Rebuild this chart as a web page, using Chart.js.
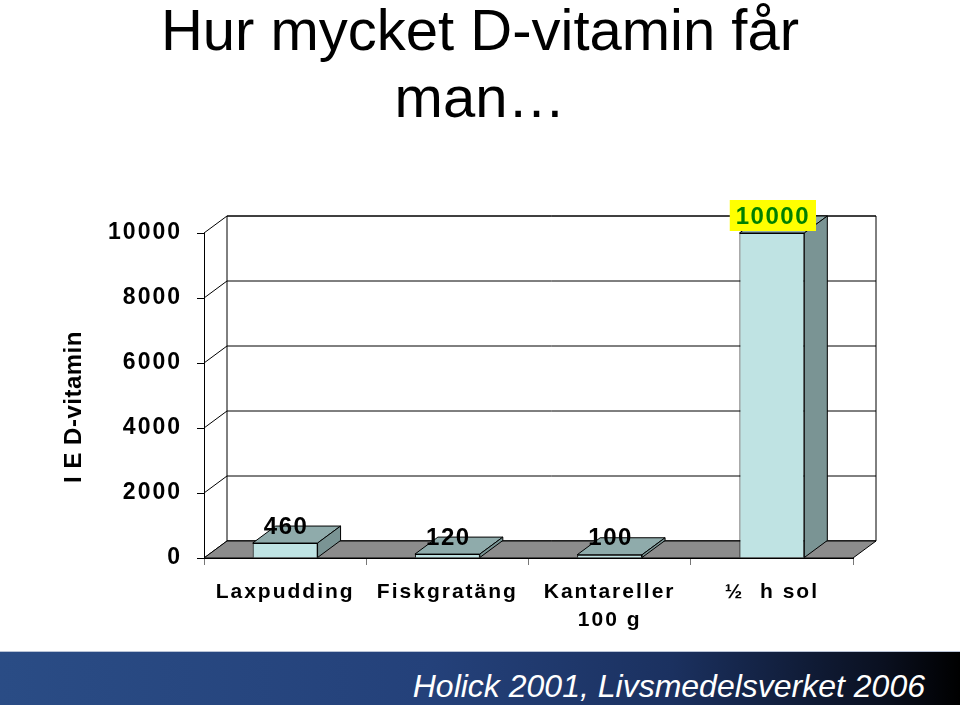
<!DOCTYPE html>
<html>
<head>
<meta charset="utf-8">
<title>Hur mycket D-vitamin får man…</title>
<script src="https://cdn.jsdelivr.net/npm/chart.js@4/dist/chart.umd.min.js"></script>
<style>
  html, body { margin: 0; padding: 0; background: #fff; }
  #wrap { position: relative; width: 960px; height: 705px; overflow: hidden; }
  #chart-box { position: absolute; left: 0; top: 0; width: 960px; height: 705px; }
  #title {
    position: absolute; left: 0; top: -4px; width: 960px; text-align: center;
    font: 58px/67px "Liberation Sans", Arial, sans-serif; color: #000;
  }
  #footer {
    position: absolute; left: 0; top: 651px; width: 960px; height: 54px;
    box-sizing: border-box; border-top: 1px solid #b9c3d6;
    background: linear-gradient(to right, #2a4c85 0%, #24417a 45%, #1b3160 70%, #0a1020 92%, #000 100%);
  }
  #footer span {
    position: absolute; right: 35px; top: 18px;
    font: italic 32px/32px "Liberation Sans", Arial, sans-serif; color: #fff;
  }
</style>
</head>
<body>
<div id="wrap">
  <div id="chart-box"><canvas id="vitaminChart"></canvas></div>
  <div id="title">Hur mycket D-vitamin får<br>man…</div>
  <div id="footer"><span>Holick 2001, Livsmedelsverket 2006</span></div>
</div>
<script>
const categories = ['Laxpudding', 'Fiskgratäng', ['Kantareller', '100 g'], '½  h sol'];
const values = [460, 120, 100, 10000];
const yTicks = [0, 2000, 4000, 6000, 8000, 10000];
const yTitle = 'I E D-vitamin';

const FONT = '"Liberation Sans", Arial, sans-serif';
const DX = 23, DY = 17; // depth of the 3D box

const FRONT = '#bfe3e3';
const TOP = '#8fabab';
const SIDE = '#7a9494';
const FLOOR = '#8c8c8c';

function poly(ctx, pts, fill) {
  ctx.beginPath();
  ctx.moveTo(pts[0][0], pts[0][1]);
  for (let i = 1; i < pts.length; i++) ctx.lineTo(pts[i][0], pts[i][1]);
  ctx.closePath();
  if (fill) { ctx.fillStyle = fill; ctx.fill(); }
  ctx.stroke();
}

// walls, floor, box tops/sides and value labels
const box3d = {
  id: 'box3d',
  beforeUpdate(chart) {
    chart.ctx.letterSpacing = '2px';
  },
  beforeDraw(chart) {
    chart.ctx.letterSpacing = '2px';
  },
  beforeDatasetsDraw(chart) {
    const { ctx, chartArea: a, scales: { y } } = chart;
    ctx.save();
    ctx.strokeStyle = '#000';
    ctx.lineWidth = 1;

    // back wall
    const bl = a.left + DX, br = a.right + DX;
    poly(ctx, [[bl, a.top - DY], [br, a.top - DY], [br, a.bottom - DY], [bl, a.bottom - DY]], '#fff');

    // grid lines: slant on side wall, then across back wall
    y.ticks.forEach(t => {
      const py = y.getPixelForValue(t.value);
      ctx.beginPath();
      ctx.moveTo(a.left, py);
      ctx.lineTo(bl, py - DY);
      ctx.lineTo(br, py - DY);
      ctx.stroke();
    });

    // floor
    poly(ctx, [[a.left, a.bottom], [a.right, a.bottom], [br, a.bottom - DY], [bl, a.bottom - DY]], FLOOR);
    ctx.restore();
  },
  afterDatasetsDraw(chart) {
    const { ctx } = chart;
    const meta = chart.getDatasetMeta(0);
    const maxVal = Math.max(...values);
    ctx.save();
    ctx.strokeStyle = '#000';
    ctx.lineWidth = 1;
    meta.data.forEach((el, i) => {
      const { x, y, base, width } = el.getProps(['x', 'y', 'base', 'width'], true);
      const x1 = x - width / 2, x2 = x + width / 2;
      poly(ctx, [[x1, y], [x2, y], [x2 + DX, y - DY], [x1 + DX, y - DY]], TOP);
      poly(ctx, [[x2, y], [x2, base], [x2 + DX, base - DY], [x2 + DX, y - DY]], SIDE);
    });

    ctx.font = 'bold 24px ' + FONT;
    ctx.letterSpacing = '1.5px';
    ctx.textAlign = 'center';
    ctx.textBaseline = 'middle';
    meta.data.forEach((el, i) => {
      const { x, y } = el.getProps(['x', 'y'], true);
      const txt = String(values[i]);
      const ly = y - DY;
      if (values[i] === maxVal) {
        const w = ctx.measureText(txt).width + 12;
        ctx.fillStyle = '#ffff00';
        ctx.fillRect(x - w / 2 + 1, ly - 16, w, 31);
        ctx.fillStyle = '#008000';
      } else {
        ctx.fillStyle = '#000';
      }
      ctx.fillText(txt, x + 1, ly + 1);
    });
    ctx.restore();
  },
  afterDraw(chart) {
    const { ctx } = chart;
    ctx.save();
    ctx.font = 'bold 24px ' + FONT;
    ctx.letterSpacing = '0.5px';
    ctx.fillStyle = '#000';
    ctx.textAlign = 'center';
    ctx.textBaseline = 'middle';
    ctx.translate(74, 407);
    ctx.rotate(-Math.PI / 2);
    ctx.fillText(yTitle, 0, 0);
    ctx.restore();
  }
};

new Chart(document.getElementById('vitaminChart'), {
  type: 'bar',
  data: {
    labels: categories,
    datasets: [{
      data: values,
      backgroundColor: FRONT,
      borderColor: '#000',
      borderWidth: 1,
      barPercentage: 0.4,
      categoryPercentage: 1
    }]
  },
  options: {
    responsive: true,
    maintainAspectRatio: false,
    animation: false,
    layout: { padding: { left: 55, top: 233, right: 107, bottom: 0 } },
    plugins: {
      legend: { display: false },
      tooltip: { enabled: false }
    },
    scales: {
      x: {
        afterFit(s) { s.height = 147; },
        grid: { offset: true, drawOnChartArea: false, tickLength: 7, color: '#777' },
        border: { color: '#000' },
        ticks: {
          color: '#000',
          maxRotation: 0,
          autoSkip: false,
          padding: 13,
          font: { family: FONT, size: 21, weight: 'bold', lineHeight: 1.33 }
        }
      },
      y: {
        min: 0,
        max: 10000,
        afterBuildTicks(s) { s.ticks = yTicks.map(v => ({ value: v })); },
        afterFit(s) { s.width = 149; },
        grid: { drawOnChartArea: false, tickLength: 7, color: '#000' },
        border: { color: '#000' },
        ticks: {
          color: '#000',
          padding: 15,
          callback: v => String(v),
          font: { family: FONT, size: 23, weight: 'bold' }
        }
      }
    }
  },
  plugins: [box3d]
});
</script>
</body>
</html>
